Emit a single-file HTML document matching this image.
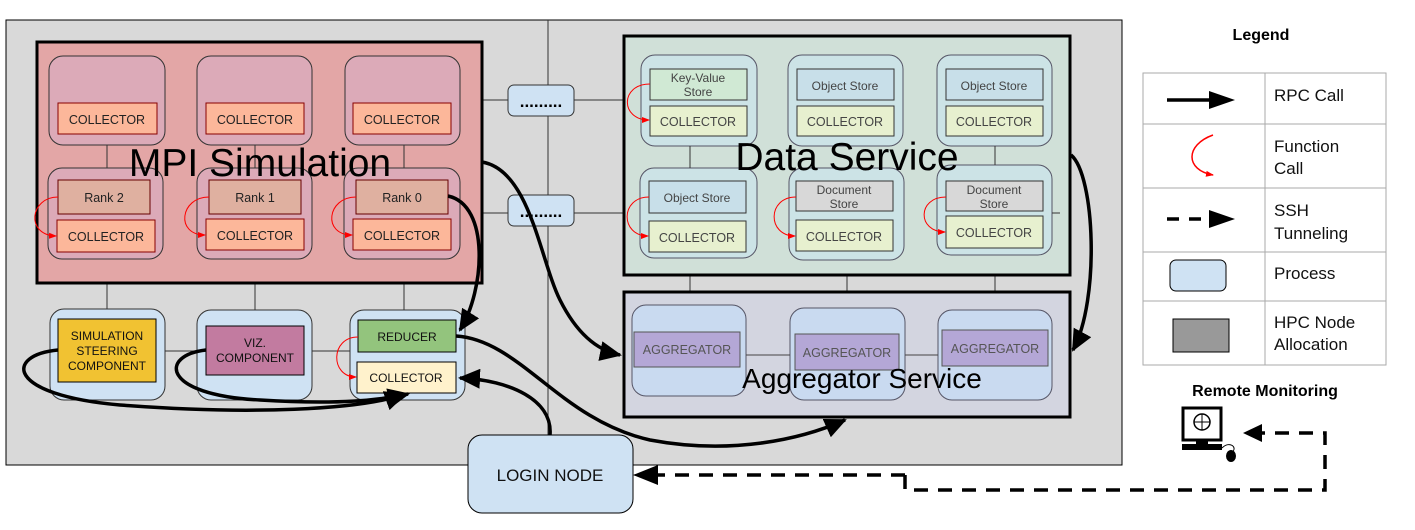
<!DOCTYPE html>
<html><head><meta charset="utf-8"><style>
html,body{margin:0;padding:0;background:#fff;}
svg{display:block;font-family:"Liberation Sans",Arial,sans-serif;}
</style></head><body>
<svg width="1415" height="530" viewBox="0 0 1415 530" xmlns="http://www.w3.org/2000/svg">
<defs>
<marker id="ahb" markerWidth="22" markerHeight="20" refX="20" refY="10" orient="auto" markerUnits="userSpaceOnUse"><path d="M0,0 L22,10 L0,20 z" fill="#000"/></marker>
<marker id="ahr" markerWidth="8" markerHeight="8" refX="7" refY="4" orient="auto" markerUnits="userSpaceOnUse"><path d="M0,1 L8,4 L0,7 z" fill="#f00"/></marker>
</defs>
<rect x="6" y="20" width="1116" height="445" fill="#d9d9d9" stroke="#000" stroke-width="1"/>
<g stroke="#333" stroke-width="1" fill="none">
<line x1="548" y1="20" x2="548" y2="465"/>
<line x1="165" y1="100" x2="640" y2="100"/>
<line x1="757" y1="100" x2="1052" y2="100"/>
<line x1="163" y1="213" x2="640" y2="213"/>
<line x1="757" y1="213" x2="1060" y2="213"/>
<line x1="107" y1="145" x2="107" y2="310"/>
<line x1="255" y1="145" x2="255" y2="310"/>
<line x1="404" y1="145" x2="404" y2="310"/>
<line x1="165" y1="351" x2="350" y2="351"/>
<line x1="690" y1="146" x2="690" y2="305"/>
<line x1="847" y1="146" x2="847" y2="308"/>
<line x1="995" y1="146" x2="995" y2="310"/>
<line x1="746" y1="355" x2="938" y2="355"/>
</g>
<rect x="37" y="42" width="445" height="241" fill="#e3a6a6" stroke="#000" stroke-width="3"/>
<g stroke="#333" stroke-width="1" fill="#dcaab8">
<rect x="49" y="56" width="116" height="89" rx="14"/>
<rect x="197" y="56" width="115" height="89" rx="14"/>
<rect x="345" y="56" width="115" height="89" rx="14"/>
<rect x="48" y="168" width="115" height="91" rx="14"/>
<rect x="197" y="168" width="115" height="91" rx="14"/>
<rect x="344" y="168" width="116" height="91" rx="14"/>
</g>
<line x1="107" y1="145" x2="107" y2="168" stroke="#333"/>
<line x1="255" y1="145" x2="255" y2="168" stroke="#333"/>
<line x1="404" y1="145" x2="404" y2="168" stroke="#333"/>
<g stroke="#800" stroke-width="1" fill="#fcb79a">
<rect x="58" y="103" width="99" height="31"/>
<rect x="206" y="103" width="98" height="31"/>
<rect x="353" y="103" width="98" height="31"/>
<rect x="57" y="220" width="98" height="32"/>
<rect x="206" y="219" width="98" height="31"/>
<rect x="353" y="219" width="98" height="31"/>
</g>
<g stroke="#600" stroke-width="1" fill="#dfb0a0">
<rect x="58" y="180" width="92" height="34"/>
<rect x="209" y="180" width="92" height="34"/>
<rect x="356" y="180" width="92" height="34"/>
</g>
<g font-size="12.5" text-anchor="middle" fill="#222">
<text x="107" y="124">COLLECTOR</text><text x="255" y="124">COLLECTOR</text><text x="402" y="124">COLLECTOR</text>
<text x="106" y="241">COLLECTOR</text><text x="255" y="240">COLLECTOR</text><text x="402" y="240">COLLECTOR</text>
<text x="104" y="202">Rank 2</text><text x="255" y="202">Rank 1</text><text x="402" y="202">Rank 0</text>
</g>
<text x="260" y="176" font-size="39" text-anchor="middle" fill="#000">MPI Simulation</text>
<g stroke="#333" stroke-width="1" fill="#cfe2f3">
<rect x="50" y="309" width="115" height="91" rx="14"/>
<rect x="197" y="310" width="115" height="90" rx="14"/>
<rect x="350" y="310" width="115" height="90" rx="14"/>
</g>
<rect x="58" y="319" width="98" height="63" fill="#f1c232" stroke="#000"/>
<rect x="206" y="326" width="98" height="49" fill="#c27ba0" stroke="#000"/>
<rect x="358" y="320" width="98" height="32" fill="#93c47d" stroke="#000"/>
<rect x="357" y="362" width="99" height="31" fill="#fff2cc" stroke="#000"/>
<g font-size="12" text-anchor="middle" fill="#111">
<text x="107" y="340">SIMULATION</text><text x="107" y="355">STEERING</text><text x="107" y="370">COMPONENT</text>
<text x="255" y="347">VIZ.</text><text x="255" y="362">COMPONENT</text>
<text x="407" y="341">REDUCER</text><text x="406" y="382">COLLECTOR</text>
</g>
<rect x="508" y="85" width="66" height="31" rx="6" fill="#cfe2f3" stroke="#333"/>
<rect x="508" y="195" width="66" height="31" rx="6" fill="#cfe2f3" stroke="#333"/>
<text x="541" y="107" font-size="17" font-weight="bold" text-anchor="middle">.........</text>
<text x="541" y="217" font-size="17" font-weight="bold" text-anchor="middle">.........</text>
<rect x="624" y="36" width="446" height="239" fill="#d0e0d8" stroke="#000" stroke-width="3"/>
<g stroke="#556" stroke-width="1" fill="#cce3e6">
<rect x="641" y="55" width="116" height="91" rx="14"/>
<rect x="788" y="55" width="115" height="91" rx="14"/>
<rect x="937" y="55" width="115" height="91" rx="14"/>
<rect x="640" y="168" width="117" height="90" rx="14"/>
<rect x="789" y="168" width="115" height="92" rx="14"/>
<rect x="937" y="165" width="115" height="90" rx="14"/>
</g>
<line x1="690" y1="146" x2="690" y2="168" stroke="#333"/>
<line x1="995" y1="146" x2="995" y2="165" stroke="#333"/>
<line x1="1052" y1="213" x2="1060" y2="213" stroke="#333"/>
<g stroke="#333" stroke-width="1">
<rect x="650" y="69" width="97" height="31" fill="#d0e9d4"/>
<rect x="797" y="69" width="97" height="31" fill="#c8dfe9"/>
<rect x="946" y="69" width="97" height="31" fill="#c8dfe9"/>
<rect x="649" y="181" width="97" height="32" fill="#c8dfe9"/>
<rect x="796" y="181" width="97" height="30" fill="#d8d8d8"/>
<rect x="946" y="181" width="97" height="30" fill="#d8d8d8"/>
<g fill="#e7f0cf">
<rect x="650" y="106" width="97" height="30"/>
<rect x="797" y="106" width="97" height="30"/>
<rect x="946" y="106" width="97" height="30"/>
<rect x="649" y="221" width="97" height="31"/>
<rect x="796" y="220" width="97" height="31"/>
<rect x="946" y="216" width="97" height="32"/>
</g>
</g>
<g font-size="12" text-anchor="middle" fill="#444">
<text x="698" y="82">Key-Value</text><text x="698" y="96">Store</text>
<text x="845" y="90">Object Store</text><text x="994" y="90">Object Store</text>
<text x="697" y="202">Object Store</text>
<text x="844" y="194">Document</text><text x="844" y="208">Store</text>
<text x="994" y="194">Document</text><text x="994" y="208">Store</text>
<g font-size="12.5"><text x="698" y="126">COLLECTOR</text><text x="845" y="126">COLLECTOR</text><text x="994" y="126">COLLECTOR</text>
<text x="697" y="242">COLLECTOR</text><text x="844" y="241">COLLECTOR</text><text x="994" y="237">COLLECTOR</text></g>
</g>
<text x="847" y="170" font-size="39" text-anchor="middle" fill="#000">Data Service</text>
<rect x="624" y="292" width="446" height="125" fill="#d3d5e0" stroke="#000" stroke-width="3"/>
<g stroke="#556" stroke-width="1" fill="#c9daf0">
<rect x="632" y="305" width="114" height="91" rx="14"/>
<rect x="790" y="308" width="115" height="92" rx="14"/>
<rect x="938" y="310" width="114" height="90" rx="14"/>
</g>
<line x1="746" y1="355" x2="790" y2="355" stroke="#444"/><line x1="905" y1="355" x2="938" y2="355" stroke="#444"/>
<g stroke="#555" fill="#b4a7d6">
<rect x="634" y="332" width="106" height="35"/>
<rect x="795" y="334" width="104" height="36"/>
<rect x="942" y="330" width="106" height="36"/>
</g>
<g font-size="12.5" text-anchor="middle" fill="#555">
<text x="687" y="354">AGGREGATOR</text><text x="847" y="357">AGGREGATOR</text><text x="995" y="353">AGGREGATOR</text>
</g>
<text x="862" y="388" font-size="28" text-anchor="middle" fill="#000">Aggregator Service</text>
<rect x="468" y="435" width="165" height="78" rx="14" fill="#cfe2f3" stroke="#000"/>
<text x="550" y="481" font-size="17" text-anchor="middle" fill="#111">LOGIN NODE</text>
<g stroke="#f00" stroke-width="1" fill="none" marker-end="url(#ahr)">
<path d="M58,197 C30,197 25,235 56,236"/>
<path d="M209,197 C180,197 175,235 205,235"/>
<path d="M356,197 C327,197 322,235 352,235"/>
<path d="M650,84 C620,84 620,120 649,120"/>
<path d="M649,197 C620,197 620,236 648,236"/>
<path d="M796,197 C767,197 767,236 795,236"/>
<path d="M946,197 C917,197 917,232 945,232"/>
<path d="M358,337 C330,337 330,377 356,377"/>
</g>
<g stroke="#000" stroke-width="3.5" fill="none" marker-end="url(#ahb)">
<path d="M482,162 C530,170 540,260 560,300 C575,330 595,350 620,355"/>
<path d="M448,196 C490,205 485,290 460,330"/>
<path d="M1071,155 C1095,175 1100,300 1073,350"/>
<path d="M456,336 C520,340 560,420 650,440 C730,455 800,440 845,420"/>
<path d="M550,435 C553,400 510,380 460,378"/>
<path d="M58,350 C5,355 5,395 120,405 C250,415 360,410 405,394"/>
<path d="M206,350 C160,355 160,395 260,400 C340,405 380,400 408,394"/>
</g>
<g stroke="#000" stroke-width="3.5" fill="none" stroke-dasharray="14,10">
<path d="M905,475 L650,475"/>
<path d="M905,475 L905,490 L1325,490 L1325,433 L1262,433"/>
</g>
<path d="M633,475 L658,465 L658,485 z" fill="#000"/>
<path d="M1243,433 L1262,424 L1262,442 z" fill="#000"/>
<text x="1261" y="40" font-size="16" font-weight="bold" text-anchor="middle">Legend</text>
<g stroke="#aaa" stroke-width="1" fill="none">
<rect x="1143" y="73" width="243" height="292"/>
<line x1="1265" y1="73" x2="1265" y2="365"/>
<line x1="1143" y1="124" x2="1386" y2="124"/>
<line x1="1143" y1="188" x2="1386" y2="188"/>
<line x1="1143" y1="252" x2="1386" y2="252"/>
<line x1="1143" y1="301" x2="1386" y2="301"/>
</g>
<line x1="1167" y1="100" x2="1212" y2="100" stroke="#000" stroke-width="3.5"/>
<path d="M1209,91 L1235,100 L1209,109 z" fill="#000"/>
<path d="M1213,135 C1185,145 1185,170 1213,175" stroke="#f00" stroke-width="1.5" fill="none" marker-end="url(#ahr)"/>
<line x1="1167" y1="219" x2="1212" y2="219" stroke="#000" stroke-width="3.5" stroke-dasharray="12,10"/>
<path d="M1209,210 L1235,219 L1209,228 z" fill="#000"/>
<rect x="1170" y="260" width="56" height="31" rx="6" fill="#cfe2f3" stroke="#000"/>
<rect x="1173" y="319" width="56" height="33" fill="#999" stroke="#000"/>
<g font-size="17" fill="#111">
<text x="1274" y="101">RPC Call</text>
<text x="1274" y="152">Function</text><text x="1274" y="174">Call</text>
<text x="1274" y="216">SSH</text><text x="1274" y="239">Tunneling</text>
<text x="1274" y="279">Process</text>
<text x="1274" y="328">HPC Node</text><text x="1274" y="350">Allocation</text>
</g>
<text x="1265" y="396" font-size="16" font-weight="bold" text-anchor="middle">Remote Monitoring</text>
<rect x="1183" y="408" width="38" height="32" fill="#fff" stroke="#000" stroke-width="3"/>
<circle cx="1202" cy="422" r="8" fill="none" stroke="#000" stroke-width="1.5"/>
<line x1="1194" y1="422" x2="1210" y2="422" stroke="#000"/><line x1="1202" y1="414" x2="1202" y2="430" stroke="#000"/>
<rect x="1196" y="440" width="12" height="4" fill="#000"/>
<rect x="1182" y="444" width="40" height="6" fill="#000"/>
<path d="M1222,448 C1230,440 1238,448 1232,452" stroke="#000" fill="none"/>
<ellipse cx="1231" cy="456" rx="5" ry="6" fill="#000"/>
</svg>
</body></html>
